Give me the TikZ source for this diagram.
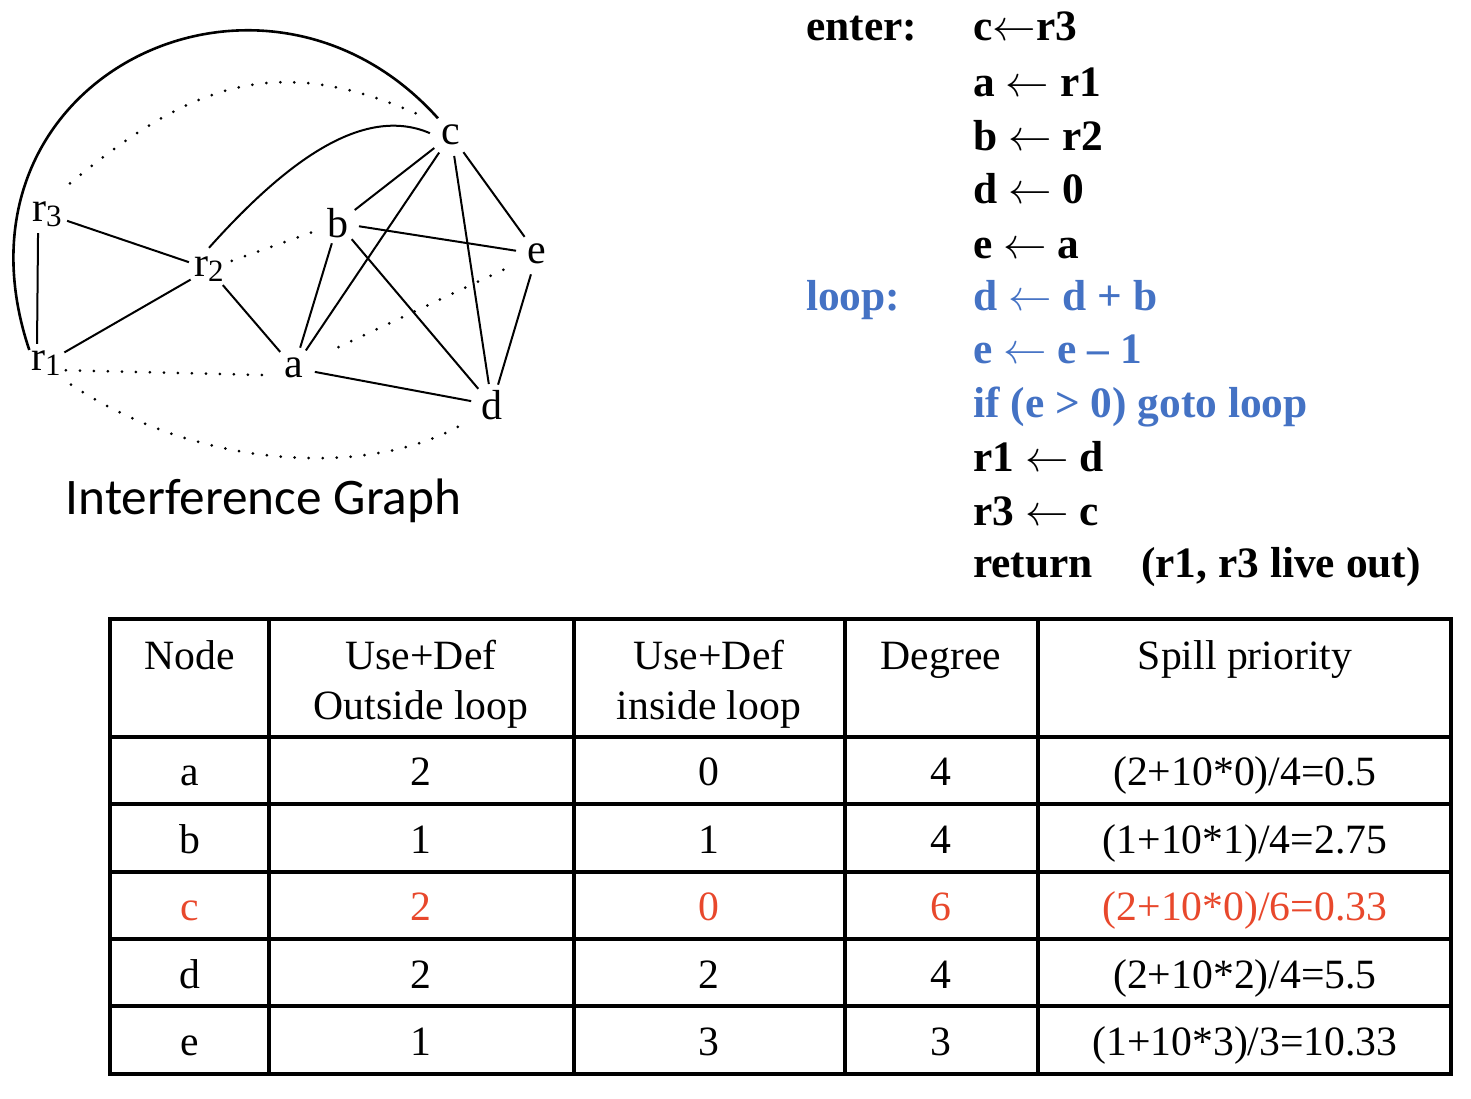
\documentclass[tikz,border=0pt]{standalone}
\usepackage{fontspec}
\usepackage{graphicx}
\setmainfont{Liberation Serif}
\newfontfamily\carlitofont{Carlito}
\definecolor{codeblue}{RGB}{68,114,196}
\definecolor{spillred}{RGB}{232,72,44}
\newcommand\rsub[1]{r\raisebox{-5pt}{\fontsize{31}{31}\selectfont #1}}
\newcommand\larr{\scalebox{1.75}{$\leftarrow$}}
\begin{document}
\begin{tikzpicture}[x=1pt,y=-1pt,
  gn/.style={circle, minimum size=42pt, inner sep=0pt, font=\fontsize{42}{42}\selectfont},
  ge/.style={line width=2pt},
  gd/.style={line width=3pt, line cap=round, dash pattern=on 0pt off 14pt},
  code/.style={anchor=base west, inner sep=0pt, font=\fontsize{43.4}{50}\selectfont\bfseries},
  tab/.style={anchor=base, inner sep=0pt, font=\fontsize{41.7}{50}\selectfont},
  grid/.style={line width=3.5pt}]
\useasboundingbox (0,0) rectangle (1471,1098);
% ---------------- graph ----------------
\node[gn] (c)  at (451,135) {c};
\node[gn] (b)  at (338,223) {b};
\node[gn] (e)  at (537,254) {e};
\node[gn] (a)  at (294,368) {a};
\node[gn] (d)  at (492,405) {d};
\node[gn] (r3) at (47,214)  {\rsub{3}};
\node[gn] (r2) at (209,269) {\rsub{2}};
\node[gn] (r1) at (46,363)  {\rsub{1}};
% solid edges
\draw[ge] (r3.-115) -- (r1.115);
\draw[ge] (r3) -- (r2);
\draw[ge] (r1) -- (r2);
\draw[ge] (r2) -- (a);
\draw[ge] (b) -- (c);
\draw[ge] (a) -- (c);
\draw[ge] (c) -- (d);
\draw[ge] (c) -- (e);
\draw[ge] (b) -- (e);
\draw[ge] (b) -- (a);
\draw[ge] (b) -- (d);
\draw[ge] (e) -- (d);
\draw[ge] (a) -- (d);
\draw[ge] (r2.90) .. controls (284,164) and (362,104) .. (c.175);
\draw[line width=2.6pt] (r1.142) .. controls (-62,78) and (262,-78) .. (c.128);
% dotted edges
\draw[gd, shorten <=3pt] (r2) -- (b);
\draw[gd] (r1.-20) -- (a.200);
\draw[gd, shorten <=28pt, shorten >=12pt] (a) -- (e);
\draw[gd, shorten <=18pt, shorten >=12pt] (r3.65) .. controls (191,84) and (276,50) .. (c.141);
\draw[gd, shorten <=12pt, shorten >=14pt] (r1.-45) .. controls (200,470) and (370,478) .. (d.215);
\node[font=\carlitofont\fontsize{51.3}{60}\selectfont, anchor=base, inner sep=0pt] (title) at (263.5,514) {Interference Graph};
% ---------------- code ----------------
\node[code] (l1a) at (806,40) {enter:};
\node[code] (l1b) at (973,40) {c\larr r3};
\node[code] (l2) at (973,96) {a \larr\ r1};
\node[code] (l3) at (973,150) {b \larr\ r2};
\node[code] (l4) at (973,203) {d \larr\ 0};
\node[code] (l5) at (973,258) {e \larr\ a};
\node[code, text=codeblue] (l6a) at (806,310) {loop:};
\node[code, text=codeblue] (l6b) at (973,310) {d \larr\ d + b};
\node[code, text=codeblue] (l7) at (973,363) {e \larr\ e – 1};
\node[code, text=codeblue] (l8) at (973,417) {if (e > 0) goto loop};
\node[code] (l9) at (973,471) {r1 \larr\ d};
\node[code] (l10) at (973,525) {r3 \larr\ c};
\node[code] (l11a) at (973,577) {return};
\node[code] (l11b) at (1141,577) {(r1, r3 live out)};
% ---------------- table ----------------
\draw[grid] (110,619) rectangle (1451,1074);
\foreach \xx in {269,574,845,1038} \draw[grid] (\xx,619) -- (\xx,1074);
\foreach \yy in {737,804,872,939,1006} \draw[grid] (110,\yy) -- (1451,\yy);
\node[tab] (h1) at (190,669) {Node};
\node[tab] (h2a) at (421,669) {Use+Def};
\node[tab] (h2b) at (421,719) {Outside loop};
\node[tab] (h3a) at (709,669) {Use+Def};
\node[tab] (h3b) at (709,719) {inside loop};
\node[tab] (h4) at (941,669) {Degree};
\node[tab] (h5) at (1245,669) {Spill priority};
% rows
\node[tab] (ra1) at (190,785) {a};
\node[tab] (ra2) at (421,785) {2};
\node[tab] (ra3) at (709,785) {0};
\node[tab] (ra4) at (941,785) {4};
\node[tab] (ra5) at (1245,785) {(2+10*0)/4=0.5};
\node[tab] (rb1) at (190,853) {b};
\node[tab] (rb2) at (421,853) {1};
\node[tab] (rb3) at (709,853) {1};
\node[tab] (rb4) at (941,853) {4};
\node[tab] (rb5) at (1245,853) {(1+10*1)/4=2.75};
\node[tab, text=spillred] (rc1) at (190,920) {c};
\node[tab, text=spillred] (rc2) at (421,920) {2};
\node[tab, text=spillred] (rc3) at (709,920) {0};
\node[tab, text=spillred] (rc4) at (941,920) {6};
\node[tab, text=spillred] (rc5) at (1245,920) {(2+10*0)/6=0.33};
\node[tab] (rd1) at (190,988) {d};
\node[tab] (rd2) at (421,988) {2};
\node[tab] (rd3) at (709,988) {2};
\node[tab] (rd4) at (941,988) {4};
\node[tab] (rd5) at (1245,988) {(2+10*2)/4=5.5};
\node[tab] (re1) at (190,1055) {e};
\node[tab] (re2) at (421,1055) {1};
\node[tab] (re3) at (709,1055) {3};
\node[tab] (re4) at (941,1055) {3};
\node[tab] (re5) at (1245,1055) {(1+10*3)/3=10.33};
\end{tikzpicture}
\end{document}
